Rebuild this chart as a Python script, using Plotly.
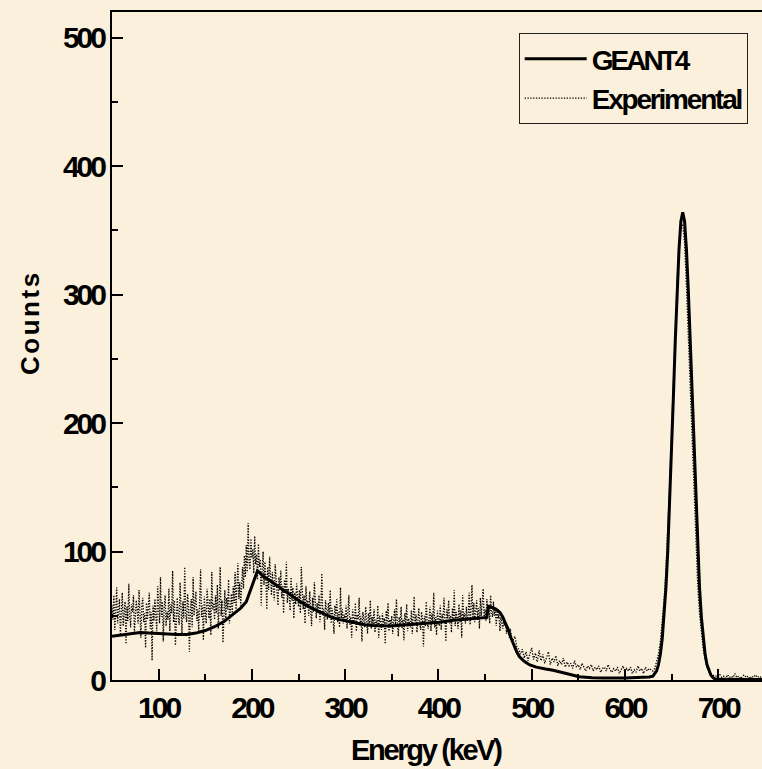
import numpy as np
import plotly.graph_objects as go

# ---------------- data ----------------
geant_energy = [50, 60, 70, 80, 90, 100, 110, 120, 130, 140, 150, 160, 170, 180, 188, 194, 206,
                212, 220, 230, 241, 250, 258, 267, 276, 285, 294, 303, 312, 321, 330, 348, 366,
                384, 401, 416, 434, 452, 453.5, 458, 462, 466, 469, 472, 475, 478, 480, 484, 487,
                492, 498, 505, 515, 523, 535, 551, 565, 576, 600, 620, 626,
                630, 632, 634, 636, 638, 640, 642, 644, 646, 648, 650, 652, 654, 656, 658, 660,
                662, 664, 666, 668, 670, 672, 674, 676, 678, 680, 682, 684, 686, 688, 690, 692,
                694, 696, 700, 720, 747]
geant_counts = [34, 35, 36.5, 37, 36.5, 36, 35.5, 35.5, 35.5, 36.5, 38.5, 41.5, 45.5, 51, 56, 61, 85,
                81, 77, 72, 67, 62, 58, 55, 52, 49, 47, 45.5, 44, 43, 42.5, 42, 43,
                44, 45, 46.5, 47.5, 48.7, 57, 56.5, 55, 52.5, 49, 44, 39, 32.5, 28.5, 22, 18,
                14.5, 11.7, 10, 8.5, 7.6, 5.5, 2.6, 1.8, 1.5, 1.5, 1.8, 2.3,
                3, 5, 7.2, 12, 20, 32, 49, 72, 101, 137, 178, 221, 264, 303, 335, 357,
                364, 357, 335, 303, 264, 221, 178, 137, 101, 72, 49, 32, 20, 12, 7.2, 4,
                2.2, 1, 0.5, 0.3, 0.3]

# experimental channels: 1 keV up to 479 keV, 2 keV above
exp_energy = np.concatenate([np.arange(50, 480, 1), np.arange(480, 748, 2)])
exp_counts = [
    # 50 - 479 keV (1 keV)
    58, 47, 66, 39, 55, 72, 44, 51, 63, 35,
    54, 68, 42, 49, 61, 28, 57, 46, 75, 50,
    41, 59, 53, 66, 37, 48, 62, 55, 44, 70,
    49, 33, 58, 64, 45, 52, 25, 60, 47, 56,
    68, 40, 53, 15, 58, 46, 63, 51, 38, 73,
    55, 44, 80, 49, 61, 30, 57, 66, 42, 53,
    47, 71, 38, 59, 52, 85, 45, 62, 27, 56,
    64, 50, 43, 76, 55, 36, 61, 48, 88, 52,
    45, 67, 58, 22, 54, 63, 41, 80, 50, 57,
    69, 46, 55, 38, 62, 86, 49, 58, 31, 65,
    53, 44, 71, 57, 48, 63, 35, 84, 55, 60,
    47, 66, 52, 74, 40, 58, 88, 50, 62, 29,
    57, 70, 48, 64, 55, 78, 44, 61, 67, 52,
    73, 60, 84, 55, 69, 91, 63, 76, 58, 82,
    88, 71, 97, 80, 105, 84, 122, 92, 86, 110,
    95, 102, 83, 112, 90, 98, 78, 106, 88, 94,
    58, 85, 100, 74, 92, 80, 55, 88, 70, 96,
    77, 66, 84, 72, 62, 90, 75, 68, 58, 80,
    70, 85, 64, 73, 52, 78, 67, 92, 60, 71,
    65, 54, 80, 62, 72, 48, 68, 59, 75, 63,
    57, 70, 52, 88, 61, 55, 66, 44, 73, 58,
    62, 50, 69, 56, 42, 64, 53, 76, 57, 48,
    60, 52, 66, 45, 58, 83, 50, 55, 39, 62,
    54, 47, 60, 51, 70, 44, 56, 49, 36, 58,
    50, 63, 45, 53, 41, 72, 48, 55, 44, 51,
    46, 58, 40, 52, 66, 43, 49, 33, 55, 47,
    44, 60, 38, 51, 47, 64, 42, 50, 30, 53,
    45, 41, 57, 48, 36, 52, 44, 62, 40, 49,
    43, 55, 37, 47, 41, 58, 33, 50, 45, 39,
    52, 42, 48, 28, 54, 44, 60, 38, 47, 43,
    50, 36, 46, 55, 41, 63, 45, 34, 49, 42,
    57, 40, 47, 31, 52, 44, 59, 38, 48, 45,
    41, 54, 36, 49, 65, 43, 51, 37, 46, 56,
    44, 39, 53, 47, 26, 50, 42, 61, 45, 40,
    48, 57, 38, 52, 44, 68, 41, 49, 35, 54,
    46, 42, 58, 39, 51, 47, 64, 43, 30, 55,
    48, 62, 44, 50, 37, 56, 46, 70, 42, 53,
    49, 40, 59, 45, 54, 33, 66, 48, 52, 44,
    57, 46, 51, 68, 43, 55, 74, 49, 60, 45,
    53, 62, 47, 56, 40, 64, 50, 58, 71, 48,
    55, 46, 63, 52, 59, 44, 66, 53, 49, 61,
    50, 56, 42, 54, 48, 51, 38, 49, 45, 40,
    47, 42, 44, 36, 43, 38, 33, 40, 35, 31,
    # 480 - 628 keV (2 keV)
    31, 34, 26, 24, 20,
    24, 17, 22, 15, 20, 25, 16, 21, 14, 23,
    15, 20, 13, 18, 22, 12, 17, 14, 19, 11,
    15, 12, 17, 10, 14, 11, 13, 9, 15, 10,
    12, 8, 13, 10, 7, 11, 9, 12, 7, 10,
    8, 11, 6, 9, 10, 7, 12, 8, 6, 9,
    7, 10, 5, 8, 11, 6, 9, 7, 10, 5,
    8, 6, 11, 7, 9, 5, 10, 7, 9, 8,
    # 630 - 696 keV (photopeak)
    7, 9, 14, 20, 30, 44, 62, 86, 116, 152,
    192, 234, 274, 310, 338, 352, 355, 340, 306, 266,
    222, 180, 140, 104, 75, 52, 36, 24, 16, 10,
    7, 5, 4, 3,
    # 698 - 746 keV
    3, 2, 4, 2, 3, 1, 4, 2, 3, 2, 5, 2, 3, 1, 3, 4, 2, 3, 1, 3, 2, 4, 2, 3, 2,
]

x_ticks = [100, 200, 300, 400, 500, 600, 700]
y_ticks = [0, 100, 200, 300, 400, 500]
series_names = ["GEANT4", "Experimental"]
x_title = "Energy (keV)"
y_title = "Counts"

# ---------------- styling helpers ----------------
BG = "#FBF0DB"
FONT = "Liberation Sans, Arial, sans-serif"


def squeeze(text, spacing):
    return '<span style="letter-spacing:%spx">%s</span>' % (spacing, text)


fig = go.Figure()
fig.add_trace(go.Scatter(x=exp_energy, y=exp_counts, mode="lines",
                         name=squeeze(series_names[1], -2.2),
                         line=dict(color="#000000", width=1.3, dash="1.3px,1.5px")))
fig.add_trace(go.Scatter(x=geant_energy, y=geant_counts, mode="lines",
                         name=squeeze(series_names[0], -3.0),
                         line=dict(color="#000000", width=3)))

axis_common = dict(
    showgrid=False, zeroline=False, showline=True, linecolor="#000", linewidth=2,
    ticks="inside", ticklen=11, tickwidth=2, tickcolor="#000",
    tickfont=dict(family=FONT, size=30, color="#000", weight="bold"),
)
minor_common = dict(dtick=50, tick0=0, ticks="inside", ticklen=6, tickwidth=2, tickcolor="#000")

fig.update_xaxes(range=[50, 747], tickvals=x_ticks,
                 ticktext=[squeeze(v, -3) for v in x_ticks], mirror=True,
                 minor=minor_common, **axis_common)
fig.update_yaxes(range=[0, 520], tickvals=y_ticks,
                 ticktext=[squeeze(v, -3) for v in y_ticks],
                 minor=minor_common, **axis_common)

fig.update_layout(
    width=762, height=769,
    margin=dict(l=112, r=0, t=12, b=89),
    paper_bgcolor=BG, plot_bgcolor=BG,
    showlegend=True,
    legend=dict(x=0.978, y=0.9686, xanchor="right", yanchor="top",
                bgcolor=BG, bordercolor="#222", borderwidth=1,
                traceorder="reversed",
                font=dict(family=FONT, size=28, color="#000", weight="bold"),
                itemwidth=62, tracegroupgap=0),
    annotations=[
        dict(text=squeeze(y_title, 2.5), textangle=-90, x=-0.1262, y=0.536,
             xref="paper", yref="paper", xanchor="center", yanchor="middle", showarrow=False,
             font=dict(family=FONT, size=26, color="#000", weight="bold")),
        dict(text=squeeze(x_title, -2.3), x=0.4846, y=-0.1048, xref="paper", yref="paper",
             xanchor="center", yanchor="middle", showarrow=False,
             font=dict(family=FONT, size=29, color="#000", weight="bold")),
    ],
)

fig.write_html("out.html")
